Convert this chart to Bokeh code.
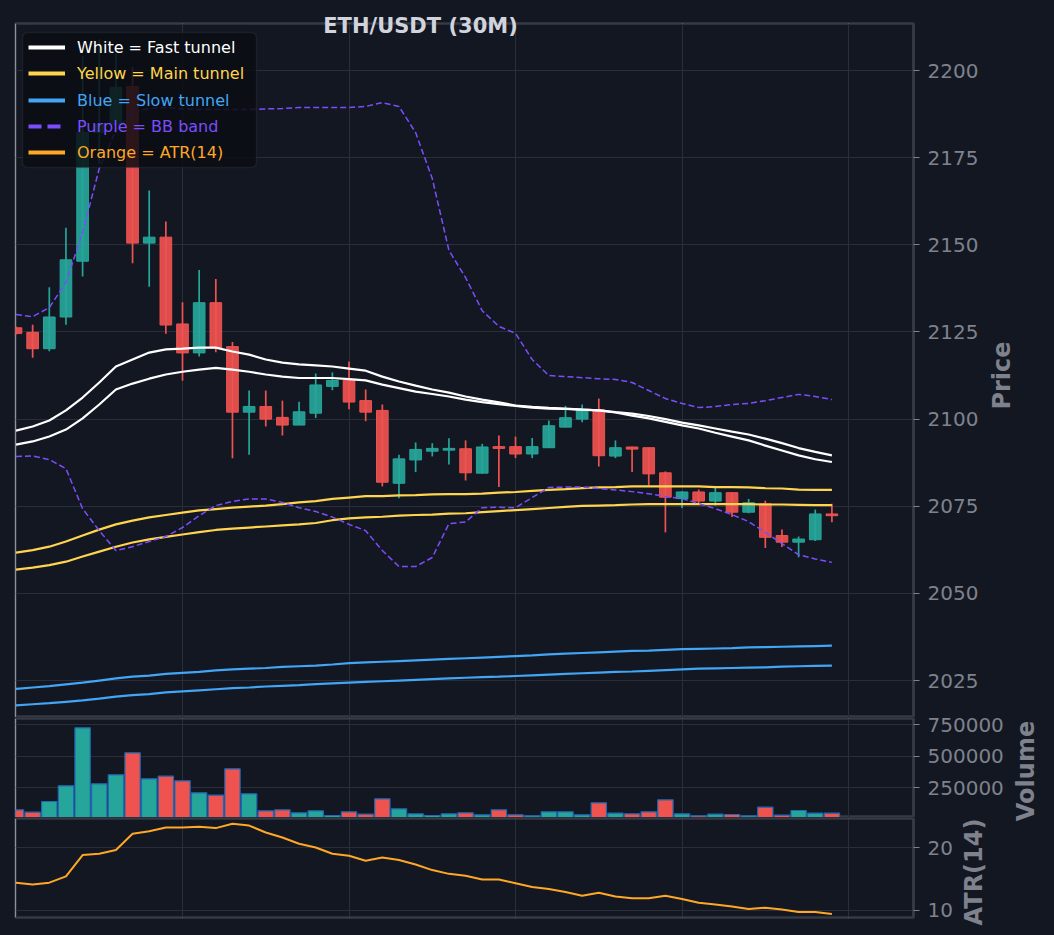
import math
from bokeh.plotting import figure
from bokeh.models import (Range1d, FixedTicker, Grid, Legend, LegendItem,
                          BoxAnnotation, Label, BasicTickFormatter)
from bokeh.layouts import column
from bokeh.embed import file_html
from bokeh.resources import INLINE

# ---------------- data ----------------
candle_index = list(range(50))

opens = [2126.2, 2124.9, 2120.2, 2129.3, 2145.3, 2182.3, 2184.5, 2195.4, 2150.5, 2152.2,
         2127.3, 2119.0, 2133.4, 2120.8, 2102.0, 2103.6, 2100.5, 2098.3, 2101.7, 2109.4,
         2111.1, 2105.3, 2102.5, 2081.6, 2088.3, 2090.8, 2091.1, 2091.5, 2084.5, 2092.1,
         2092.1, 2090.0, 2091.8, 2097.7, 2100.0, 2102.7, 2089.4, 2092.0, 2091.8, 2084.6,
         2077.2, 2079.1, 2076.5, 2078.9, 2073.3, 2075.7, 2066.6, 2064.7, 2065.4, 2072.8]
highs = [2126.6, 2127.1, 2137.8, 2154.9, 2204.0, 2209.0, 2204.8, 2201.0, 2165.6, 2156.7,
         2133.5, 2142.8, 2140.2, 2122.1, 2108.2, 2108.2, 2105.3, 2105.0, 2113.1, 2113.4,
         2116.5, 2108.5, 2104.2, 2089.8, 2093.3, 2093.1, 2094.5, 2093.9, 2092.9, 2095.3,
         2095.0, 2094.6, 2099.6, 2103.8, 2104.2, 2105.9, 2093.9, 2092.1, 2091.8, 2085.0,
         2079.3, 2079.8, 2080.3, 2078.9, 2077.1, 2076.6, 2068.3, 2066.3, 2074.1, 2075.7]
lows = [2124.3, 2117.6, 2119.5, 2127.1, 2140.9, 2173.3, 2182.0, 2144.7, 2138.0, 2124.5,
        2111.0, 2118.0, 2119.2, 2088.8, 2089.8, 2097.9, 2095.3, 2098.3, 2100.3, 2108.3,
        2102.8, 2099.4, 2080.7, 2077.3, 2084.8, 2089.3, 2087.0, 2082.4, 2084.3, 2080.5,
        2088.8, 2088.8, 2091.8, 2097.7, 2099.1, 2086.4, 2088.8, 2084.8, 2081.0, 2067.5,
        2074.5, 2075.7, 2075.2, 2071.9, 2073.0, 2063.0, 2063.3, 2060.4, 2065.0, 2070.4]
closes = [2124.6, 2120.2, 2129.3, 2145.7, 2182.3, 2184.5, 2195.2, 2150.5, 2152.2, 2127.0,
          2119.0, 2133.4, 2120.4, 2102.0, 2103.6, 2100.0, 2098.3, 2102.1, 2109.8, 2111.1,
          2104.9, 2102.0, 2081.9, 2088.6, 2091.3, 2091.6, 2091.6, 2084.6, 2092.0, 2091.6,
          2090.0, 2092.1, 2098.1, 2100.4, 2102.7, 2089.5, 2091.8, 2091.4, 2084.3, 2077.6,
          2079.1, 2076.5, 2078.9, 2073.3, 2076.0, 2066.1, 2064.7, 2065.6, 2072.8, 2072.3]

volumes = [76200, 57300, 141800, 265800, 724000, 281600, 352700, 526500, 321100, 341600,
           305300, 210500, 191500, 400100, 202600, 68300, 76200, 52500, 68300, 31200,
           60400, 41500, 163100, 84100, 44600, 31200, 44600, 52500, 36700, 76200,
           36700, 28800, 60400, 60400, 36700, 131500, 49400, 44600, 60400, 155200,
           44600, 28800, 41500, 39100, 28800, 96800, 33600, 70700, 49400, 49400]

fast_tunnel_a = [2096.7, 2097.9, 2099.6, 2102.5, 2106.2, 2110.5, 2115.1, 2117.1, 2119.1, 2120.0,
                 2120.2, 2120.5, 2120.5, 2119.4, 2118.5, 2117.1, 2116.2, 2115.7, 2115.4, 2115.1,
                 2114.5, 2113.9, 2112.2, 2110.8, 2109.6, 2108.5, 2107.6, 2106.5, 2105.6, 2104.8,
                 2103.9, 2103.5, 2103.2, 2103.0, 2102.7, 2102.5, 2101.9, 2101.0, 2100.2, 2099.2,
                 2098.2, 2097.3, 2096.1, 2095.0, 2093.9, 2092.4, 2091.0, 2089.6, 2088.5, 2087.7]
fast_tunnel_b = [2092.7, 2093.6, 2095.0, 2097.0, 2100.2, 2104.2, 2108.5, 2110.2, 2111.6, 2112.8,
                 2113.6, 2114.2, 2114.7, 2114.2, 2113.6, 2112.8, 2112.2, 2111.8, 2111.8, 2111.8,
                 2111.5, 2111.1, 2109.9, 2108.9, 2107.9, 2107.2, 2106.5, 2105.6, 2104.9, 2104.3,
                 2103.8, 2103.3, 2103.0, 2102.9, 2102.7, 2102.5, 2102.0, 2101.6, 2100.9, 2100.0,
                 2099.0, 2098.2, 2097.3, 2096.4, 2095.6, 2094.4, 2093.1, 2091.7, 2090.6, 2089.6]
main_tunnel_a = [2061.7, 2062.4, 2063.4, 2064.9, 2066.6, 2068.3, 2069.8, 2070.9, 2071.8, 2072.5,
                 2073.2, 2073.8, 2074.2, 2074.6, 2074.9, 2075.2, 2075.6, 2076.1, 2076.5, 2077.1,
                 2077.5, 2077.9, 2077.9, 2078.1, 2078.2, 2078.4, 2078.5, 2078.5, 2078.6, 2078.9,
                 2079.1, 2079.4, 2079.7, 2079.9, 2080.2, 2080.4, 2080.5, 2080.7, 2080.7, 2080.7,
                 2080.7, 2080.7, 2080.5, 2080.5, 2080.4, 2080.2, 2080.1, 2079.8, 2079.7, 2079.7]
main_tunnel_b = [2056.8, 2057.4, 2058.1, 2059.1, 2060.6, 2062.0, 2063.4, 2064.6, 2065.5, 2066.2,
                 2066.9, 2067.6, 2068.2, 2068.6, 2068.9, 2069.2, 2069.5, 2069.8, 2070.2, 2071.0,
                 2071.5, 2071.8, 2072.0, 2072.3, 2072.5, 2072.6, 2072.9, 2073.0, 2073.3, 2073.6,
                 2073.9, 2074.2, 2074.5, 2074.8, 2075.1, 2075.2, 2075.3, 2075.5, 2075.6, 2075.6,
                 2075.6, 2075.6, 2075.6, 2075.6, 2075.6, 2075.5, 2075.5, 2075.4, 2075.3, 2075.3]
slow_tunnel_a = [2022.6, 2023.0, 2023.4, 2023.9, 2024.4, 2025.0, 2025.6, 2026.1, 2026.4, 2026.9,
                 2027.2, 2027.5, 2027.9, 2028.2, 2028.4, 2028.6, 2028.9, 2029.1, 2029.3, 2029.6,
                 2030.0, 2030.2, 2030.4, 2030.6, 2030.8, 2031.0, 2031.2, 2031.4, 2031.6, 2031.8,
                 2032.0, 2032.2, 2032.5, 2032.7, 2032.9, 2033.1, 2033.3, 2033.5, 2033.6, 2033.8,
                 2034.0, 2034.1, 2034.2, 2034.3, 2034.5, 2034.6, 2034.7, 2034.8, 2034.9, 2035.0]
slow_tunnel_b = [2017.9, 2018.2, 2018.5, 2018.9, 2019.3, 2019.8, 2020.4, 2020.8, 2021.1, 2021.6,
                 2021.9, 2022.2, 2022.5, 2022.8, 2023.0, 2023.3, 2023.5, 2023.7, 2024.0, 2024.2,
                 2024.4, 2024.6, 2024.8, 2025.0, 2025.2, 2025.4, 2025.6, 2025.8, 2026.0, 2026.1,
                 2026.3, 2026.5, 2026.7, 2026.9, 2027.1, 2027.3, 2027.5, 2027.6, 2027.8, 2028.0,
                 2028.2, 2028.4, 2028.5, 2028.6, 2028.7, 2028.8, 2029.0, 2029.1, 2029.2, 2029.3]
bb_upper = [2130.0, 2129.4, 2132.0, 2139.2, 2153.5, 2171.9, 2182.8, 2188.0, 2189.1, 2189.4,
            2189.0, 2188.8, 2188.8, 2188.8, 2188.8, 2189.0, 2189.1, 2189.4, 2189.4, 2189.4,
            2189.4, 2189.7, 2190.8, 2189.7, 2182.2, 2169.0, 2148.4, 2140.6, 2131.1, 2126.6,
            2124.6, 2117.1, 2112.5, 2112.2, 2111.9, 2111.6, 2111.4, 2110.5, 2108.2, 2105.9,
            2104.5, 2103.3, 2103.6, 2104.2, 2104.5, 2105.3, 2106.2, 2107.1, 2106.5, 2105.6]
bb_lower = [2089.3, 2089.4, 2088.4, 2085.8, 2074.3, 2068.0, 2062.3, 2063.4, 2064.9, 2066.3,
            2068.9, 2072.3, 2075.2, 2076.4, 2077.1, 2077.1, 2076.1, 2074.6, 2073.5, 2071.9,
            2069.8, 2068.0, 2062.3, 2057.7, 2057.7, 2060.3, 2070.0, 2070.5, 2074.6, 2074.7,
            2074.6, 2077.5, 2080.4, 2080.5, 2080.5, 2080.1, 2079.7, 2079.2, 2078.6, 2077.8,
            2077.2, 2075.8, 2074.3, 2072.6, 2070.6, 2067.5, 2064.3, 2061.1, 2059.9, 2058.9]
atr14 = [14.4, 14.1, 14.4, 15.4, 18.8, 19.0, 19.6, 22.2, 22.6, 23.2,
         23.2, 23.3, 23.1, 23.8, 23.5, 22.4, 21.6, 20.6, 20.0, 19.0,
         18.7, 17.9, 18.4, 18.0, 17.3, 16.4, 15.8, 15.5, 14.9, 14.9,
         14.3, 13.7, 13.4, 12.9, 12.3, 12.8, 12.2, 11.9, 11.9, 12.3,
         11.8, 11.2, 10.9, 10.6, 10.2, 10.4, 10.1, 9.7, 9.7, 9.4]

price_ticks = [2025, 2050, 2075, 2100, 2125, 2150, 2175, 2200]
volume_ticks = [250000, 500000, 750000]
atr_ticks = [10, 20]
x_grid_ticks = [10, 20, 30, 40, 50]

title_text = "ETH/USDT (30M)"
panel_titles = ["Price", "Volume", "ATR(14)"]

legend_entries = [
    ("White = Fast tunnel", "#ffffff", "solid"),
    ("Yellow = Main tunnel", "#ffd54f", "solid"),
    ("Blue = Slow tunnel", "#42a5f5", "solid"),
    ("Purple = BB band", "#7c4dff", "13 6"),
    ("Orange = ATR(14)", "#ffa726", "solid"),
]

# ---------------- style ----------------
BG = "#131722"
GRID = "#2a2e39"
SPINE = "#363a45"
TXT = "#7f828c"
UP = "#26a69a"
DOWN = "#ef5350"
FONT = "DejaVu Sans"
PAGE_W, PAGE_H = 1050, 935

candle_colors = [UP if c >= o else DOWN for o, c in zip(opens, closes)]
body_top = [max(o, c) for o, c in zip(opens, closes)]
body_bot = [min(o, c) for o, c in zip(opens, closes)]

x_range = Range1d(-0.03, 53.9)


def make_panel(frame_h, yr, yticks, top, bottom, border_alpha=1.0):
    p = figure(frame_width=898, frame_height=frame_h, x_range=x_range, y_range=yr,
               output_backend="svg", toolbar_location=None,
               x_axis_location=None, y_axis_location="right",
               min_border_left=15, min_border_top=top, min_border_bottom=bottom,
               min_border_right=133,
               background_fill_color=BG, border_fill_color=BG,
               border_fill_alpha=border_alpha)
    p.outline_line_color = SPINE
    p.outline_line_width = 2.5
    ax = p.yaxis[0]
    ax.ticker = FixedTicker(ticks=yticks)
    ax.formatter = BasicTickFormatter(use_scientific=False)
    ax.axis_line_color = SPINE
    ax.axis_line_width = 2.5
    ax.major_tick_line_color = TXT
    ax.major_tick_line_width = 1.2
    ax.major_tick_out = 6
    ax.major_tick_in = 0
    ax.minor_tick_line_color = None
    ax.major_label_text_font = FONT
    ax.major_label_text_font_size = "20px"
    ax.major_label_text_color = TXT
    ax.major_label_standoff = 8
    p.ygrid.ticker = FixedTicker(ticks=yticks)
    p.ygrid.grid_line_color = GRID
    p.ygrid.grid_line_width = 1
    p.add_layout(Grid(dimension=0, ticker=FixedTicker(ticks=x_grid_ticks),
                      grid_line_color=GRID, grid_line_width=1))
    return p


# ---- price panel ----
pp = make_panel(694, Range1d(2014.4, 2213.5), price_ticks, 23, 0)
pp.segment(x0=candle_index, y0=lows, x1=candle_index, y1=highs,
           line_color=candle_colors, line_width=1.7)
pp.vbar(x=candle_index, width=0.7, top=body_top, bottom=body_bot,
        fill_color=candle_colors, fill_alpha=0.92, line_color=candle_colors, line_width=1)

for series in (slow_tunnel_a, slow_tunnel_b):
    pp.line(candle_index, series, line_color="#42a5f5", line_width=2.2)
for series in (main_tunnel_a, main_tunnel_b):
    pp.line(candle_index, series, line_color="#ffd54f", line_width=2.2)
for series in (fast_tunnel_a, fast_tunnel_b):
    pp.line(candle_index, series, line_color="#ffffff", line_width=2.2)
for series in (bb_upper, bb_lower):
    pp.line(candle_index, series, line_color="#7c4dff", line_width=1.5, line_dash="6 3")

# legend background
pp.add_layout(BoxAnnotation(left=7, right=241, bottom=550, top=685,
                            left_units="screen", right_units="screen",
                            bottom_units="screen", top_units="screen",
                            fill_color="#0b0d12", fill_alpha=0.85,
                            line_color="#3a3e48", line_width=1.5, border_radius=5))
item_centers = [670, 644, 617, 591, 565]
for (label, color, dash), cy in zip(legend_entries, item_centers):
    r = pp.line(x=[candle_index[0]], y=[float("nan")], line_color=color,
                line_width=3.8, line_dash=dash)
    leg = Legend(items=[LegendItem(label=label, renderers=[r])],
                 location=(13, cy - 10), padding=0, margin=0, spacing=0,
                 glyph_width=37, glyph_height=20, label_height=20,
                 label_standoff=12, label_text_font=FONT,
                 label_text_font_size="16px", label_text_color=color,
                 background_fill_alpha=0, border_line_alpha=0)
    pp.add_layout(leg)

# ---- volume panel (canvas reaches 8px up, transparent there) ----
pv = make_panel(99, Range1d(15400, 797400), volume_ticks, 9, 0, border_alpha=0.0)
pv.styles = {"margin-top": "-8px"}
pv.vbar(x=candle_index, width=0.92, top=volumes, bottom=0,
        fill_color=candle_colors, line_color="#2068b3", line_width=1.2)

# ---- ATR panel ----
pa = make_panel(99, Range1d(8.84, 24.63), atr_ticks, 9, 19, border_alpha=0.0)
pa.styles = {"margin-top": "-8px"}
pa.line(candle_index, atr14, line_color="#ffa726", line_width=2)

# ---- transparent overlay for the title and panel labels ----
ov = figure(width=PAGE_W, height=PAGE_H, x_range=Range1d(0, 1), y_range=Range1d(0, 1),
            output_backend="svg", toolbar_location=None,
            x_axis_location=None, y_axis_location=None,
            min_border=0, background_fill_alpha=0, border_fill_alpha=0,
            outline_line_color=None)
ov.frame_align = False
ov.xgrid.visible = False
ov.ygrid.visible = False
ov.styles = {"margin-top": f"-{PAGE_H}px", "pointer-events": "none"}
ov.add_layout(Label(x=420, y=PAGE_H - 24, x_units="screen", y_units="screen",
                    text=title_text, text_align="center", text_baseline="middle",
                    text_font=FONT, text_font_size="21px", text_font_style="bold",
                    text_color="#d1d4dc"))
for text, px, py in zip(panel_titles, [1001, 1025, 973], [374, 769.5, 870.5]):
    ov.add_layout(Label(x=px, y=PAGE_H - py, x_units="screen", y_units="screen",
                        text=text, angle=math.pi / 2, angle_units="rad",
                        text_align="center", text_baseline="middle",
                        text_font=FONT, text_font_size="24px", text_font_style="bold",
                        text_color=TXT))

layout = column(pp, pv, pa, ov, spacing=0)

html = file_html(layout, INLINE, title=title_text)
html = html.replace("<head>", "<head><style>html,body{background:#131722;}</style>", 1)
open("out.html", "w").write(html)
